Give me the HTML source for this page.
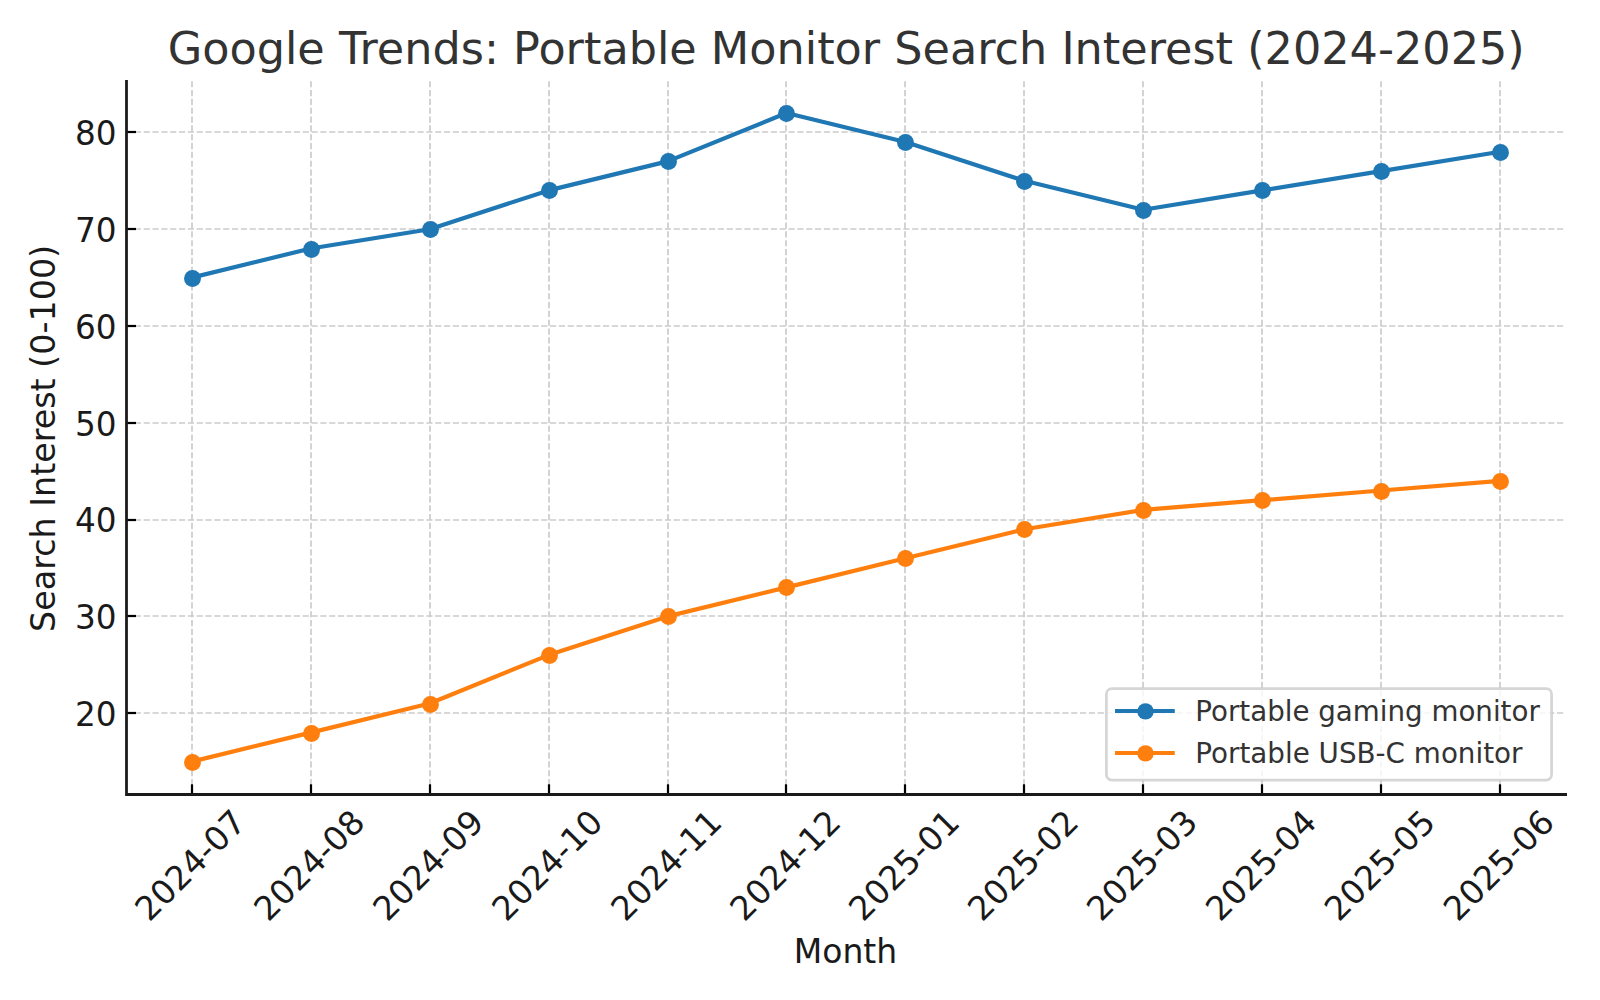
<!DOCTYPE html>
<html lang="en"><head><meta charset="utf-8"><title>Google Trends: Portable Monitor Search Interest (2024-2025)</title>
<style>html,body{margin:0;padding:0;background:#fff}svg{display:block}text{font-family:"DejaVu Sans","Liberation Sans",sans-serif}</style></head><body>
<svg width="1600" height="1000" viewBox="0 0 1600 1000">
<rect width="1600" height="1000" fill="#fff"/>
<g stroke="#cbcbcb" stroke-width="1.67" stroke-dasharray="6.1667 2.6667" fill="none">
<path d="M192 794.0V81.2"/>
<path d="M311 794.0V81.2"/>
<path d="M430 794.0V81.2"/>
<path d="M549 794.0V81.2"/>
<path d="M668 794.0V81.2"/>
<path d="M786 794.0V81.2"/>
<path d="M905 794.0V81.2"/>
<path d="M1024 794.0V81.2"/>
<path d="M1143 794.0V81.2"/>
<path d="M1262 794.0V81.2"/>
<path d="M1381 794.0V81.2"/>
<path d="M1500 794.0V81.2"/>
<path d="M126 713H1565.6"/>
<path d="M126 616H1565.6"/>
<path d="M126 520H1565.6"/>
<path d="M126 423H1565.6"/>
<path d="M126 326H1565.6"/>
<path d="M126 229H1565.6"/>
<path d="M126 132H1565.6"/>
</g>
<polyline points="191.7,277.6 310.7,248.5 429.6,229.2 548.6,190.4 667.5,161.4 786.5,113.0 905.4,142.0 1024.4,180.8 1143.3,209.8 1262.3,190.4 1381.2,171.1 1500.2,151.7" fill="none" stroke="#1f77b4" stroke-width="4.17" stroke-linejoin="round"/>
<g fill="#1f77b4"><circle cx="192.5" cy="278.5" r="8.45"/><circle cx="311.5" cy="249.5" r="8.45"/><circle cx="430.5" cy="229.5" r="8.45"/><circle cx="549.5" cy="190.5" r="8.45"/><circle cx="668.5" cy="161.5" r="8.45"/><circle cx="786.5" cy="113.5" r="8.45"/><circle cx="905.5" cy="142.5" r="8.45"/><circle cx="1024.5" cy="181.5" r="8.45"/><circle cx="1143.5" cy="210.5" r="8.45"/><circle cx="1262.5" cy="190.5" r="8.45"/><circle cx="1381.5" cy="171.5" r="8.45"/><circle cx="1500.5" cy="152.5" r="8.45"/></g>
<polyline points="191.7,761.6 310.7,732.6 429.6,703.5 548.6,655.1 667.5,616.4 786.5,587.4 905.4,558.3 1024.4,529.3 1143.3,509.9 1262.3,500.2 1381.2,490.5 1500.2,480.9" fill="none" stroke="#ff7f0e" stroke-width="4.17" stroke-linejoin="round"/>
<g fill="#ff7f0e"><circle cx="192.5" cy="762.5" r="8.45"/><circle cx="311.5" cy="733.5" r="8.45"/><circle cx="430.5" cy="704.5" r="8.45"/><circle cx="549.5" cy="655.5" r="8.45"/><circle cx="668.5" cy="616.5" r="8.45"/><circle cx="786.5" cy="587.5" r="8.45"/><circle cx="905.5" cy="558.5" r="8.45"/><circle cx="1024.5" cy="529.5" r="8.45"/><circle cx="1143.5" cy="510.5" r="8.45"/><circle cx="1262.5" cy="500.5" r="8.45"/><circle cx="1381.5" cy="491.5" r="8.45"/><circle cx="1500.5" cy="481.5" r="8.45"/></g>
<g stroke="#000" stroke-width="2.22" fill="none">
<path d="M192 794.5V784.3"/>
<path d="M311 794.5V784.3"/>
<path d="M430 794.5V784.3"/>
<path d="M549 794.5V784.3"/>
<path d="M668 794.5V784.3"/>
<path d="M786 794.5V784.3"/>
<path d="M905 794.5V784.3"/>
<path d="M1024 794.5V784.3"/>
<path d="M1143 794.5V784.3"/>
<path d="M1262 794.5V784.3"/>
<path d="M1381 794.5V784.3"/>
<path d="M1500 794.5V784.3"/>
<path d="M126.5 713H136"/>
<path d="M126.5 616H136"/>
<path d="M126.5 520H136"/>
<path d="M126.5 423H136"/>
<path d="M126.5 326H136"/>
<path d="M126.5 229H136"/>
<path d="M126.5 132H136"/>
</g>
<path d="M126.5 81.4V794.5H1565.6" fill="none" stroke="#1a1a1a" stroke-width="2.78" stroke-linecap="square" stroke-linejoin="miter"/>
<g font-size="33.33" fill="#1a1a1a" text-anchor="end">
<text x="116.5" y="725.9" textLength="41.6" lengthAdjust="spacingAndGlyphs">20</text>
<text x="116.5" y="629.1" textLength="41.6" lengthAdjust="spacingAndGlyphs">30</text>
<text x="116.5" y="532.3" textLength="41.6" lengthAdjust="spacingAndGlyphs">40</text>
<text x="116.5" y="435.5" textLength="41.6" lengthAdjust="spacingAndGlyphs">50</text>
<text x="116.5" y="338.7" textLength="41.6" lengthAdjust="spacingAndGlyphs">60</text>
<text x="116.5" y="241.9" textLength="41.6" lengthAdjust="spacingAndGlyphs">70</text>
<text x="116.5" y="145.0" textLength="41.6" lengthAdjust="spacingAndGlyphs">80</text>
</g>
<g font-size="33.33" fill="#1a1a1a" text-anchor="middle">
<text transform="translate(190.1 865.0) rotate(-45)" x="0" y="12">2024-07</text>
<text transform="translate(309.1 865.0) rotate(-45)" x="0" y="12">2024-08</text>
<text transform="translate(428.0 865.0) rotate(-45)" x="0" y="12">2024-09</text>
<text transform="translate(547.0 865.0) rotate(-45)" x="0" y="12">2024-10</text>
<text transform="translate(665.9 865.0) rotate(-45)" x="0" y="12">2024-11</text>
<text transform="translate(784.9 865.0) rotate(-45)" x="0" y="12">2024-12</text>
<text transform="translate(903.8 865.0) rotate(-45)" x="0" y="12">2025-01</text>
<text transform="translate(1022.8 865.0) rotate(-45)" x="0" y="12">2025-02</text>
<text transform="translate(1141.7 865.0) rotate(-45)" x="0" y="12">2025-03</text>
<text transform="translate(1260.7 865.0) rotate(-45)" x="0" y="12">2025-04</text>
<text transform="translate(1379.6 865.0) rotate(-45)" x="0" y="12">2025-05</text>
<text transform="translate(1498.6 865.0) rotate(-45)" x="0" y="12">2025-06</text>
</g>
<text x="845.5" y="962.6" font-size="33.33" fill="#1a1a1a" text-anchor="middle" textLength="103.4" lengthAdjust="spacingAndGlyphs">Month</text>
<text transform="translate(55 438.4) rotate(-90)" font-size="33.33" fill="#1a1a1a" text-anchor="middle">Search Interest (0-100)</text>
<text x="846.2" y="63.5" font-size="44.44" fill="#333333" text-anchor="middle" textLength="1357" lengthAdjust="spacingAndGlyphs">Google Trends: Portable Monitor Search Interest (2024-2025)</text>
<rect x="1106.4" y="688.7" width="445.2" height="91.4" rx="5.5" fill="#fff" fill-opacity="0.8" stroke="#cccccc" stroke-opacity="0.8" stroke-width="2.78"/>
<path d="M1117.1 711.0H1172.7" stroke="#1f77b4" stroke-width="4.17" stroke-linecap="square"/><circle cx="1145.5" cy="711.4" r="8.2" fill="#1f77b4"/>
<text x="1195.3" y="720.9" font-size="27.78" fill="#333333" textLength="344.5" lengthAdjust="spacingAndGlyphs">Portable gaming monitor</text>
<path d="M1117.1 753.0H1172.7" stroke="#ff7f0e" stroke-width="4.17" stroke-linecap="square"/><circle cx="1145.5" cy="753.4" r="8.2" fill="#ff7f0e"/>
<text x="1195.3" y="762.9" font-size="27.78" fill="#333333">Portable USB-C monitor</text>
</svg></body></html>
